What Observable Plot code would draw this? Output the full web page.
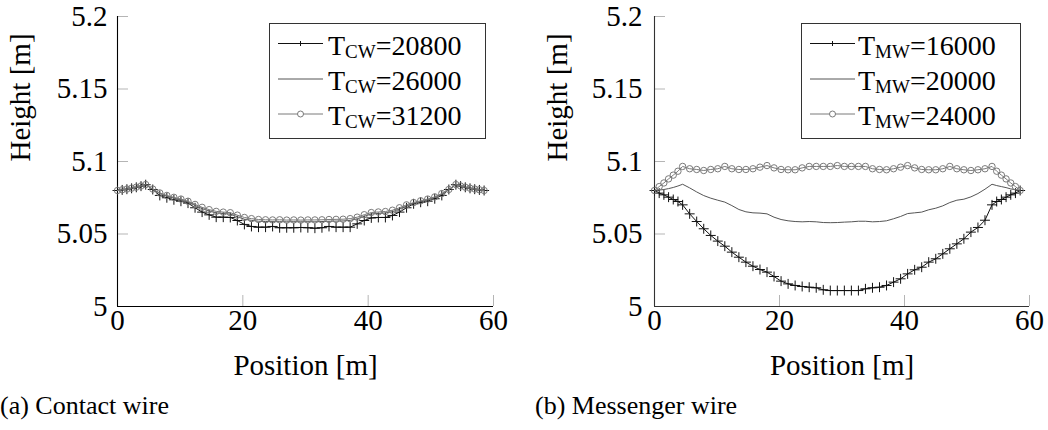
<!DOCTYPE html>
<html>
<head>
<meta charset="utf-8">
<script src="https://cdn.jsdelivr.net/npm/d3@7"></script>
<script src="https://cdn.jsdelivr.net/npm/@observablehq/plot@0.6"></script>
<style>
  html, body { margin: 0; padding: 0; background: white; }
  #page { position: relative; width: 1048px; height: 430px; overflow: hidden; background: white; }
  .panel { position: absolute; top: 0; }
  #overlay { position: absolute; left: 0; top: 0; pointer-events: none; }
</style>
</head>
<body>
<div id="page">
  <div id="left" class="panel" style="left:0px"></div>
  <div id="right" class="panel" style="left:535px"></div>
</div>
<script>
// ---------- data ----------
const positions = [0,0.75,1.5,2.25,3,3.75,4.5,5.625,6.75,7.875,9,10.125,11.25,12.375,13.5,14.625,15.75,16.875,18,19.125,20.25,21.375,22.5,23.625,24.75,25.875,27,28.125,29.25,30.375,31.5,32.625,33.75,34.875,36,37.125,38.25,39.375,40.5,41.625,42.75,43.875,45,46.125,47.25,48.375,49.5,50.625,51.75,52.875,54,54.75,55.5,56.25,57,57.75,58.5];

// Contact wire
const cw20800 = [5.0800,5.0804,5.0809,5.0815,5.0822,5.0830,5.0840,
  5.0807,5.0766,5.0750,5.0736,5.0726,5.0713,5.0681,5.0651,5.0632,5.0616,5.0616,5.0614,5.0593,5.0566,5.0552,5.0547,5.0547,5.0552,5.0543,5.0543,5.0543,5.0545,5.0543,5.0540,5.0543,5.0552,5.0547,5.0547,5.0547,5.0570,5.0593,5.0611,5.0614,5.0614,5.0628,5.0651,5.0681,5.0708,5.0719,5.0726,5.0743,5.0766,5.0807,5.0840,
  5.0830,5.0822,5.0815,5.0809,5.0804,5.0800];
const cw26000 = [5.0800,5.0805,5.0810,5.0816,5.0823,5.0831,5.0841,
  5.0809,5.0779,5.0761,5.0748,5.0736,5.0720,5.0697,5.0675,5.0659,5.0646,5.0641,5.0637,5.0619,5.0602,5.0594,5.0588,5.0586,5.0585,5.0585,5.0584,5.0585,5.0584,5.0585,5.0584,5.0586,5.0588,5.0589,5.0590,5.0594,5.0605,5.0622,5.0638,5.0642,5.0645,5.0654,5.0672,5.0693,5.0710,5.0723,5.0735,5.0751,5.0775,5.0805,5.0841,
  5.0831,5.0823,5.0816,5.0810,5.0805,5.0800];
const cw31200 = [5.0800,5.0805,5.0810,5.0816,5.0823,5.0831,5.0841,
  5.0810,5.0783,5.0766,5.0753,5.0741,5.0726,5.0704,5.0684,5.0668,5.0656,5.0651,5.0647,5.0630,5.0614,5.0606,5.0600,5.0598,5.0597,5.0598,5.0596,5.0597,5.0596,5.0597,5.0597,5.0598,5.0600,5.0601,5.0602,5.0606,5.0616,5.0633,5.0648,5.0652,5.0655,5.0664,5.0681,5.0701,5.0717,5.0729,5.0741,5.0756,5.0779,5.0807,5.0841,
  5.0831,5.0823,5.0816,5.0810,5.0805,5.0800];

// Messenger wire
const mw16000 = [5.0800,5.0782,5.0770,5.0754,5.0738,5.0724,5.0701,
  5.0639,5.0586,5.0536,5.0490,5.0451,5.0416,5.0375,5.0340,5.0306,5.0278,5.0255,5.0237,5.0207,5.0175,5.0156,5.0145,5.0138,5.0133,5.0129,5.0115,5.0110,5.0110,5.0110,5.0110,5.0110,5.0122,5.0129,5.0133,5.0145,5.0168,5.0191,5.0225,5.0253,5.0271,5.0306,5.0329,5.0363,5.0398,5.0432,5.0467,5.0513,5.0545,5.0595,5.0701,
  5.0724,5.0738,5.0754,5.0770,5.0782,5.0800];
const mw20000 = [5.0800,5.0803,5.0807,5.0813,5.0821,5.0831,5.0843,
  5.0818,5.0790,5.0765,5.0747,5.0733,5.0720,5.0696,5.0669,5.0653,5.0646,5.0644,5.0639,5.0616,5.0600,5.0591,5.0586,5.0584,5.0586,5.0584,5.0579,5.0578,5.0579,5.0582,5.0584,5.0588,5.0588,5.0584,5.0586,5.0591,5.0605,5.0621,5.0641,5.0646,5.0651,5.0667,5.0678,5.0694,5.0717,5.0733,5.0740,5.0756,5.0779,5.0809,5.0843,
  5.0834,5.0827,5.0820,5.0811,5.0805,5.0800];
const mw24000 = [5.0800,5.0827,5.0852,5.0880,5.0906,5.0933,5.0966,
  5.0950,5.0945,5.0938,5.0945,5.0950,5.0966,5.0950,5.0945,5.0945,5.0950,5.0961,5.0972,5.0956,5.0945,5.0943,5.0943,5.0956,5.0966,5.0966,5.0966,5.0966,5.0972,5.0966,5.0966,5.0966,5.0966,5.0950,5.0945,5.0943,5.0950,5.0961,5.0972,5.0956,5.0945,5.0943,5.0943,5.0950,5.0966,5.0950,5.0943,5.0938,5.0943,5.0950,5.0966,
  5.0933,5.0906,5.0880,5.0852,5.0827,5.0800];

const xTicks = [0, 20, 40, 60];
const yTicks = [5, 5.05, 5.1, 5.15, 5.2];
const xDomain = [0, 60];
const yDomain = [5, 5.2];
const xLabel = "Position [m]";
const yLabel = "Height [m]";

const cwLabels = ["20800", "26000", "31200"];
const mwLabels = ["16000", "20000", "24000"];
const captions = ["(a) Contact wire", "(b) Messenger wire"];

// ---------- drawing ----------
const FONT = "'Liberation Serif', 'Times New Roman', serif";
const C_PLUS = "#111111", C_PLAIN = "#555555", C_CIRC = "#7a7a7a";

const toRows = ys => positions.map((x, i) => ({x, y: ys[i]}));

function chart({width, ml, mr, series, axisColor, yPad, yLabelDx}) {
  const [s1, s2, s3] = series.map(toRows);
  return Plot.plot({
    width, height: 380,
    marginLeft: ml, marginRight: mr, marginTop: 16, marginBottom: 74,
    style: {fontFamily: FONT, fontSize: "29px", background: "white", overflow: "visible", color: "black"},
    x: {domain: xDomain},
    y: {domain: yDomain},
    marks: [
      Plot.axisX(xTicks, {tickSize: -11, tickPadding: 14, stroke: "#b5b5b5", fill: "black", label: null, tickFormat: d => String(d)}),
      Plot.axisY(yTicks, {tickSize: -11, tickPadding: yPad, stroke: "#b5b5b5", fill: "black", label: null, tickFormat: d => String(d)}),
      Plot.ruleX([xDomain[0]], {stroke: axisColor, strokeWidth: 1.1}),
      Plot.ruleY([yDomain[0]], {stroke: axisColor, strokeWidth: 1.1}),
      Plot.line(s1, {x: "x", y: "y", stroke: C_PLUS, strokeWidth: 1}),
      Plot.dot(s1, {x: "x", y: "y", symbol: "plus", r: 3.3, stroke: C_PLUS, strokeWidth: 1}),
      Plot.line(s2, {x: "x", y: "y", stroke: C_PLAIN, strokeWidth: 1}),
      Plot.line(s3, {x: "x", y: "y", stroke: C_CIRC, strokeWidth: 1}),
      Plot.dot(s3, {x: "x", y: "y", r: 3.2, stroke: C_CIRC, fill: "none", strokeWidth: 1}),
      Plot.text([yLabel], {text: d => d, frameAnchor: "left", dx: yLabelDx, rotate: -90, fill: "black"}),
      Plot.text([xLabel], {text: d => d, frameAnchor: "bottom", dy: 48, lineAnchor: "top", fill: "black"})
    ]
  });
}

document.getElementById("left").appendChild(chart({
  width: 535, ml: 117, mr: 42, series: [cw20800, cw26000, cw31200], axisColor: "#000", yPad: 21, yLabelDx: -97
}));
document.getElementById("right").appendChild(chart({
  width: 513, ml: 119, mr: 19, series: [mw16000, mw20000, mw24000], axisColor: "#333", yPad: 23, yLabelDx: -97
}));

// ---------- legends & captions overlay ----------
const ov = d3.select("#page").append("svg").attr("id", "overlay")
  .attr("width", 1048).attr("height", 430);

function legend(x0, w, sampleX0, textX, sub, labels) {
  const g = ov.append("g");
  g.append("rect").attr("x", x0 + 0.5).attr("y", 23.5).attr("width", w).attr("height", 115)
    .attr("fill", "white").attr("stroke", "#333").attr("stroke-width", 1);
  const lineYs = [43.5, 79, 114];
  const baseYs = [54.5, 90, 125];
  const colors = [C_PLUS, C_PLAIN, C_CIRC];
  labels.forEach((lab, i) => {
    const cy = lineYs[i];
    g.append("line").attr("x1", sampleX0).attr("x2", sampleX0 + 45).attr("y1", cy).attr("y2", cy)
      .attr("stroke", colors[i]).attr("stroke-width", 1);
    const cx = sampleX0 + 22.5;
    if (i === 0) {
      g.append("path").attr("d", `M${cx - 2.5},${cy}H${cx + 2.5}M${cx},${cy - 2.5}V${cy + 2.5}`)
        .attr("stroke", C_PLUS).attr("stroke-width", 1).attr("fill", "none");
    } else if (i === 2) {
      g.append("circle").attr("cx", cx).attr("cy", cy).attr("r", 3).attr("fill", "white")
        .attr("stroke", C_CIRC).attr("stroke-width", 1);
    }
    const t = g.append("text").attr("x", textX).attr("y", baseYs[i])
      .attr("font-family", FONT).attr("font-size", 28).attr("fill", "black");
    t.append("tspan").text("T");
    t.append("tspan").attr("font-size", 19).attr("dy", 3).text(sub);
    t.append("tspan").attr("dy", -3).text("=" + lab);
  });
}
legend(269, 216, 278, 328, "CW", cwLabels);
legend(801, 219, 810, 858, "MW", mwLabels);

ov.append("text").attr("x", 0).attr("y", 414).attr("font-family", FONT).attr("font-size", 26)
  .attr("fill", "black").text(captions[0]);
ov.append("text").attr("x", 535).attr("y", 414).attr("font-family", FONT).attr("font-size", 26)
  .attr("fill", "black").text(captions[1]);
</script>
</body>
</html>
